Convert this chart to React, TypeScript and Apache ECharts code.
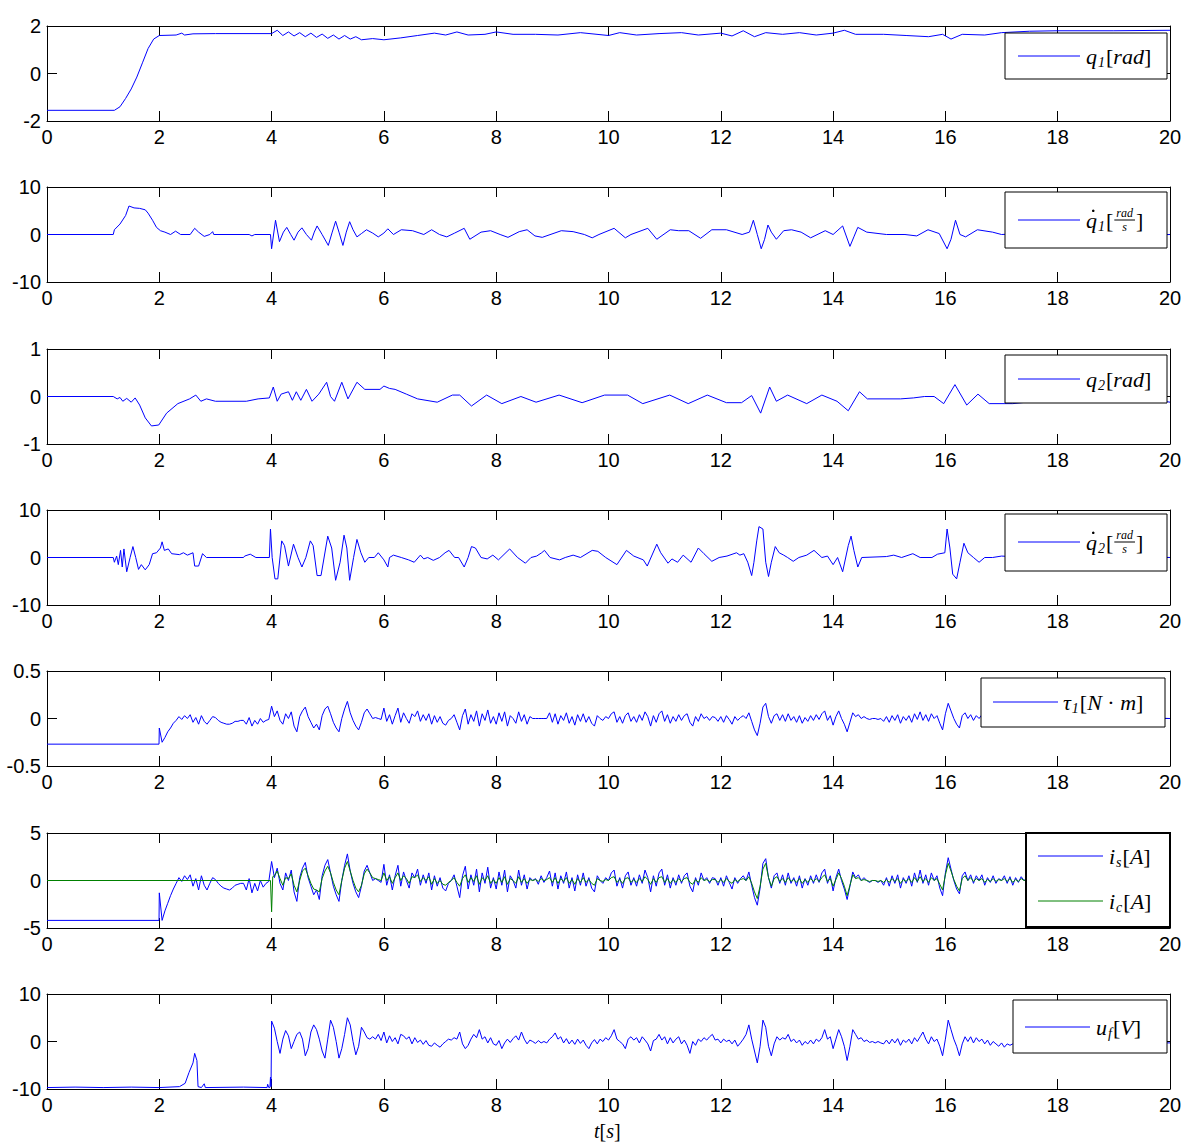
import React, { useEffect, useRef } from "react";
import * as echarts from "echarts";

// ---------- DATA (time [s], value) ----------
const Q1: number[][] = [[0,-1.55],[1.2,-1.55],[1.3,-1.4],[1.4,-1.05],[1.5,-0.65],[1.6,-0.15],[1.7,0.45],[1.8,1.05],[1.9,1.45],[2.0,1.6],[2.3,1.62],[2.4,1.7],[2.45,1.62],[2.6,1.67],[3.0,1.68],[4.0,1.68],[4.1,1.82],[4.2,1.6],[4.3,1.75],[4.4,1.58],[4.5,1.72],[4.6,1.55],[4.7,1.7],[4.8,1.52],[4.9,1.66],[5.0,1.48],[5.1,1.62],[5.2,1.45],[5.3,1.6],[5.4,1.45],[5.5,1.55],[5.6,1.42],[5.8,1.47],[6.0,1.42],[6.3,1.5],[6.6,1.6],[6.9,1.7],[7.1,1.62],[7.3,1.75],[7.5,1.62],[7.8,1.65],[8.0,1.75],[8.3,1.65],[8.7,1.65],[9.1,1.62],[9.5,1.72],[10.0,1.6],[10.2,1.72],[10.5,1.62],[10.9,1.68],[11.3,1.72],[11.6,1.62],[12.0,1.7],[12.2,1.58],[12.4,1.8],[12.6,1.55],[12.8,1.72],[13.1,1.65],[13.4,1.72],[13.7,1.62],[14.0,1.7],[14.2,1.82],[14.4,1.65],[14.9,1.65],[15.3,1.6],[15.7,1.55],[15.95,1.65],[16.1,1.45],[16.3,1.65],[16.7,1.62],[17.0,1.72],[17.5,1.78],[18.0,1.8],[19.0,1.8],[20.0,1.82]];

const QD1: number[][] = [[0,0],[1.18,0],[1.2,1.0],[1.3,2.2],[1.4,4.0],[1.46,6.0],[1.55,5.6],[1.65,5.5],[1.75,5.2],[1.8,4.5],[1.88,3.0],[1.95,1.5],[2.02,0.8],[2.1,0.5],[2.2,0],[2.29,0.7],[2.38,0],[2.55,0],[2.63,1.3],[2.7,0.5],[2.8,-0.4],[2.9,0],[2.95,0.6],[2.97,0],[3.6,0],[3.65,-0.3],[3.7,0],[3.98,0],[4.0,-3.0],[4.07,3.0],[4.14,-1.5],[4.21,0.5],[4.27,1.5],[4.34,0],[4.4,-1.2],[4.47,0.5],[4.54,1.4],[4.62,0],[4.71,-1.2],[4.76,0.5],[4.81,1.8],[4.9,0],[5.01,-2.3],[5.08,0.5],[5.14,2.8],[5.2,0.5],[5.27,-2.3],[5.33,0.5],[5.39,2.7],[5.45,1.0],[5.52,-0.5],[5.6,0.2],[5.69,1.0],[5.8,0.3],[5.9,-0.5],[6.0,0.3],[6.07,1.2],[6.17,0],[6.31,1.0],[6.51,0.8],[6.71,0],[6.85,1.0],[6.99,0],[7.12,-0.5],[7.26,0.3],[7.43,1.3],[7.53,-1.0],[7.73,0.5],[7.9,0.8],[8.07,0],[8.21,-0.6],[8.41,0.6],[8.55,1.0],[8.69,-0.3],[8.82,-0.6],[9.16,0.8],[9.37,0.6],[9.57,0],[9.71,-0.7],[9.83,0],[10.1,1.3],[10.3,-0.7],[10.4,0],[10.7,1.3],[10.86,-1.0],[11.1,1.0],[11.25,0.8],[11.43,0.8],[11.64,-0.8],[11.84,1.0],[12.1,1.0],[12.38,0],[12.51,0.5],[12.58,3.0],[12.65,0],[12.72,-3.0],[12.78,-1.0],[12.84,2.0],[12.9,0.5],[12.99,-1.0],[13.12,0.8],[13.26,1.0],[13.43,0.5],[13.6,-0.7],[13.86,0.8],[14.0,0],[14.17,1.8],[14.3,-2.5],[14.37,-0.5],[14.44,1.5],[14.6,0.5],[14.95,0],[15.28,0],[15.49,-0.3],[15.69,1.0],[15.89,0.2],[16.03,-3.0],[16.1,-1.0],[16.18,3.0],[16.26,0],[16.36,-0.5],[16.57,1.0],[16.84,0.5],[17.0,0],[17.5,0.3],[18.0,-0.3],[18.5,0.4],[19.0,0],[19.5,-0.2],[20.0,0]];

const Q2: number[][] = [[0,0],[1.18,0],[1.25,-0.05],[1.3,-0.02],[1.35,-0.1],[1.42,-0.04],[1.5,-0.12],[1.57,-0.03],[1.65,-0.18],[1.75,-0.45],[1.86,-0.62],[1.99,-0.6],[2.13,-0.35],[2.33,-0.15],[2.54,-0.05],[2.65,0.03],[2.74,-0.1],[2.84,-0.05],[3.0,-0.1],[3.55,-0.1],[3.76,-0.05],[3.96,-0.03],[4.03,0.2],[4.1,-0.1],[4.17,0.05],[4.3,0.1],[4.37,-0.08],[4.44,0.1],[4.52,-0.08],[4.62,0.15],[4.72,-0.1],[4.84,0.05],[4.98,0.3],[5.05,0.0],[5.12,-0.1],[5.25,0.3],[5.36,-0.05],[5.52,0.3],[5.66,0.15],[5.93,0.15],[6.0,0.22],[6.1,0.17],[6.2,0.15],[6.4,0.05],[6.6,-0.05],[6.95,-0.12],[7.22,0.03],[7.35,0.03],[7.56,-0.2],[7.83,0.03],[8.1,-0.15],[8.44,0.0],[8.71,-0.12],[9.12,0.03],[9.53,-0.13],[9.93,0.03],[10.34,0.03],[10.61,-0.15],[11.09,0.03],[11.42,-0.15],[11.76,0.03],[12.1,-0.13],[12.37,-0.13],[12.55,0.02],[12.71,-0.35],[12.87,0.2],[12.99,-0.1],[13.19,0.03],[13.53,-0.15],[13.8,0.03],[14.07,-0.1],[14.27,-0.3],[14.47,0.1],[14.61,-0.05],[15.2,-0.05],[15.43,-0.03],[15.63,0.0],[15.8,0.0],[15.97,-0.15],[16.17,0.25],[16.38,-0.18],[16.58,0.05],[16.78,-0.15],[17.2,-0.15],[17.6,-0.1],[18.2,0],[18.8,-0.1],[19.4,0],[20,-0.12]];

const QD2: number[][] = [[0,0],[1.18,0],[1.2,-1],[1.24,0.3],[1.27,-1.5],[1.31,1.5],[1.34,-2],[1.37,1.8],[1.42,-3],[1.48,0],[1.53,2.3],[1.58,0],[1.63,-2.5],[1.68,-1.5],[1.75,-2.6],[1.82,-1.5],[1.88,0.8],[1.95,1.0],[2.02,2.0],[2.05,3.3],[2.09,1.5],[2.16,1.8],[2.22,0.8],[2.36,0.6],[2.43,1.0],[2.5,0.5],[2.6,1.0],[2.63,-1.8],[2.7,-1.8],[2.77,0.8],[2.84,0],[3.5,0],[3.52,0.3],[3.62,0.7],[3.72,0],[3.96,0],[3.98,6.0],[4.01,0],[4.06,-4.5],[4.11,-4.5],[4.18,3.5],[4.23,2.5],[4.3,-1.8],[4.39,2.8],[4.47,0],[4.54,-2.0],[4.61,0],[4.69,3.5],[4.74,2.5],[4.81,-3.8],[4.88,-3.8],[5.0,4.5],[5.07,2],[5.14,-4.8],[5.22,-1],[5.29,4.7],[5.34,2],[5.39,-4.8],[5.46,0],[5.52,3.8],[5.59,1],[5.66,-1.0],[5.73,0],[5.83,0],[5.9,1.0],[6.0,-0.5],[6.07,-2.0],[6.1,0],[6.17,0.5],[6.31,0],[6.44,-0.5],[6.54,-1.0],[6.65,0.5],[6.71,-0.3],[6.78,0],[6.88,-0.6],[6.99,0],[7.09,1.0],[7.16,1.5],[7.26,0],[7.33,0],[7.43,-2.0],[7.5,0],[7.56,2.3],[7.63,2.0],[7.73,0],[7.84,-0.3],[7.94,0.5],[8.04,-0.5],[8.24,1.8],[8.38,0],[8.52,-1.2],[8.62,0],[8.72,0.3],[8.81,1.0],[8.86,1.5],[8.96,0],[9.13,-0.5],[9.23,0],[9.37,0.5],[9.5,0],[9.71,1.5],[9.81,1.3],[9.95,0],[10.15,-1.5],[10.32,1.5],[10.45,0.3],[10.62,-0.5],[10.69,-1.8],[10.86,2.8],[10.93,1.0],[11.06,-1.2],[11.13,-0.3],[11.23,-1.0],[11.33,0.5],[11.47,-1.0],[11.6,2.0],[11.7,0.8],[11.84,-0.8],[11.97,0],[12.11,0.3],[12.28,1.0],[12.34,0.5],[12.41,0.8],[12.48,-1.0],[12.55,-3.8],[12.59,-1.0],[12.64,3.5],[12.68,6.5],[12.75,6.0],[12.8,-1],[12.85,-4.0],[12.9,-1],[12.97,2.3],[13.04,1.0],[13.12,0.5],[13.19,0],[13.29,-0.8],[13.39,0],[13.53,0.5],[13.66,1.5],[13.8,0],[13.9,0.3],[14.0,-1.5],[14.08,0],[14.17,-3.0],[14.27,2.5],[14.32,4.5],[14.37,1.5],[14.44,-2.0],[14.51,0],[14.95,0.2],[15.08,0.5],[15.22,0],[15.42,0.8],[15.55,0],[15.76,0],[15.86,0.7],[15.99,1.0],[16.03,6.0],[16.08,2.0],[16.13,-3.5],[16.2,-4.5],[16.26,-1.0],[16.33,3.0],[16.4,1.0],[16.5,0],[16.6,-1.0],[16.7,0],[16.84,0],[17.0,0.3],[17.5,0],[18,0.3],[18.5,-0.2],[19,0],[19.5,0.2],[20,0]];

// Noisy signals: samples every SAMPLE_DT seconds starting at the given time
const SAMPLE_DT = 0.05;

const TAU1_HEAD: number[][] = [[0,-0.27],[1.995,-0.27]];
const TAU1_START = 2.0;
const TAU1_VALUES: number[] = [
  -0.10,-0.25,-0.20,-0.14,-0.10,-0.05,-0.02,0.02,-0.01,0.03,0.00,0.04,-0.04,0.01,-0.06,0.03,-0.03,-0.06,-0.02,0.02,
  0.01,-0.02,-0.04,-0.05,-0.06,-0.06,-0.05,-0.03,-0.03,-0.02,-0.02,-0.06,0.01,-0.08,-0.02,-0.06,0.00,-0.04,-0.02,-0.01,
  0.13,0.02,0.08,-0.02,-0.06,0.05,0.00,0.07,-0.08,-0.14,0.02,0.08,0.12,0.02,-0.04,-0.10,-0.06,-0.12,0.03,0.10,
  0.13,0.05,-0.04,-0.10,-0.14,0.00,0.10,0.18,0.06,-0.02,-0.08,-0.12,-0.04,0.06,0.10,0.05,0.00,0.01,0.00,-0.01,
  0.11,-0.03,0.04,-0.06,0.03,0.11,-0.04,0.06,0.00,-0.05,0.05,0.02,0.08,-0.03,0.04,-0.02,0.05,-0.06,0.03,-0.04,
  0.02,-0.05,-0.07,-0.02,0.00,0.04,-0.04,-0.12,0.03,0.10,-0.06,0.04,-0.03,0.08,-0.08,0.05,-0.02,0.09,-0.05,0.02,
  -0.06,0.06,-0.03,0.07,-0.08,0.03,0.00,-0.05,0.07,-0.03,0.04,-0.06,0.02,0.00,0.00,0.00,0.00,0.00,0.00,0.06,
  -0.04,0.05,-0.06,0.03,-0.02,0.06,-0.05,0.02,-0.07,0.04,-0.03,0.05,-0.04,0.02,-0.05,-0.08,0.03,0.00,-0.02,0.02,
  0.00,0.05,0.07,-0.04,0.02,-0.05,0.03,0.06,-0.03,0.02,-0.04,0.04,-0.02,0.07,0.02,-0.08,0.03,-0.04,0.05,0.08,
  -0.03,0.04,-0.05,0.02,-0.03,0.04,-0.02,0.03,0.05,-0.04,-0.08,0.02,-0.03,0.05,0.00,0.02,-0.02,0.02,0.01,-0.03,
  0.02,-0.04,0.03,-0.01,-0.06,0.02,-0.02,0.01,0.03,0.00,0.06,-0.03,-0.12,-0.18,-0.05,0.12,0.16,0.02,-0.05,0.03,
  0.05,-0.02,0.04,-0.03,0.05,-0.02,0.02,-0.04,0.03,-0.05,0.01,-0.03,0.03,-0.02,0.04,-0.01,0.05,0.08,-0.02,0.03,
  -0.07,0.02,0.08,0.00,-0.06,-0.14,-0.04,0.06,0.02,0.04,0.00,0.02,0.00,-0.01,0.00,0.00,-0.01,0.00,-0.03,0.02,
  -0.04,0.03,-0.02,0.04,-0.05,0.02,-0.02,0.03,-0.04,0.05,-0.01,0.07,-0.02,0.04,-0.03,0.05,0.00,0.03,-0.05,-0.12,
  0.05,0.16,0.08,0.00,-0.06,-0.10,0.03,0.06,0.00,0.04,-0.02,0.03,0.00,0.04,-0.03,0.02,-0.01,0.03,-0.02,0.01,
];
const TAU1_TAIL: number[][] = [[17.0,0.0],[17.1,0.03],[17.2,-0.02],[17.3,0.03],[17.4,-0.03],[17.6,0.02],[18,0],[19,0.02],[20,0]];

const IS_HEAD: number[][] = [[0,-4.2],[1.995,-4.2]];
const IS_START = 2.0;
const IS_VALUES: number[] = [
  -1.3,-4.2,-3.2,-2.4,-1.6,-0.9,-0.3,0.3,-0.1,0.5,0.1,0.6,-0.6,0.2,-1.0,0.5,-0.5,-1.0,-0.3,0.3,
  0.1,-0.3,-0.6,-0.8,-0.9,-1.0,-0.8,-0.5,-0.4,-0.3,-0.3,-1.0,0.2,-1.3,-0.3,-1.1,0.0,-0.7,-0.3,-0.1,
  2.0,0.3,1.3,-0.3,-1.0,0.8,0.0,1.1,-1.2,-2.2,0.3,1.3,1.9,0.3,-0.6,-1.5,-1.0,-2.0,0.5,1.6,
  2.2,0.8,-0.6,-1.5,-2.2,0.0,1.6,2.8,1.0,-0.3,-1.2,-1.8,-0.6,1.0,1.6,0.8,0.0,0.2,0.0,-0.2,
  1.7,-0.5,0.6,-1.0,0.5,1.6,-0.6,0.9,0.0,-0.8,0.8,0.3,1.2,-0.5,0.6,-0.3,0.8,-1.0,0.5,-0.6,
  0.3,-0.8,-1.1,-0.3,0.0,0.6,-0.6,-1.8,0.5,1.5,-0.9,0.6,-0.5,1.2,-1.2,0.8,-0.3,1.4,-0.8,0.3,
  -0.9,0.9,-0.5,1.1,-1.2,0.5,0.0,-0.8,1.1,-0.5,0.6,-0.9,0.3,0.0,0.2,-0.4,0.5,-0.2,0.3,1.0,
  -0.6,0.8,-0.9,0.5,-0.3,0.9,-0.8,0.3,-1.1,0.6,-0.5,0.8,-0.6,0.3,-0.8,-1.2,0.5,0.0,-0.3,0.3,
  0.0,0.8,1.1,-0.6,0.3,-0.8,0.5,0.9,-0.5,0.3,-0.6,0.6,-0.3,1.1,0.3,-1.2,0.5,-0.6,0.8,1.2,
  -0.5,0.6,-0.8,0.3,-0.5,0.6,-0.3,0.5,0.8,-0.6,-1.2,0.3,-0.5,0.8,0.0,0.3,-0.3,0.3,0.2,-0.5,
  0.3,-0.6,0.5,-0.2,-0.9,0.3,-0.3,0.2,0.5,0.0,0.9,-0.5,-1.8,-2.6,-0.8,1.8,2.3,0.3,-0.8,0.5,
  0.8,-0.3,0.6,-0.5,0.8,-0.3,0.3,-0.6,0.5,-0.8,0.2,-0.5,0.5,-0.3,0.6,-0.2,0.8,1.2,-0.3,0.5,
  -1.1,0.3,1.2,0.0,-0.9,-2.0,-0.6,0.9,0.3,0.6,0.0,0.3,0.0,-0.2,0.0,0.0,-0.2,0.0,-0.5,0.3,
  -0.6,0.5,-0.3,0.6,-0.8,0.3,-0.3,0.5,-0.6,0.8,-0.2,1.1,-0.3,0.6,-0.5,0.8,0.0,0.5,-0.8,-1.6,
  0.8,2.4,1.2,0.0,-0.9,-1.4,0.5,0.9,0.0,0.6,-0.3,0.5,0.0,0.6,-0.5,0.3,-0.2,0.5,-0.3,0.2,
  0.0,0.5,-0.3,0.4,-0.5,0.3,-0.2,0.4,0.0,0.2,
];
const IS_TAIL: number[][] = [[17.6,0],[20,0]];

const IC_HEAD: number[][] = [[0,0],[3.98,0],[4.0,-3.3],[4.02,0.4]];
const IC_START = 4.05;
const IC_VALUES: number[] = [
  0.5,1.0,0.2,-0.5,0.3,0.2,0.7,-0.5,-1.2,0.0,1.0,1.3,0.5,-0.3,-0.9,-1.0,-1.2,0.2,1.0,
  1.5,0.8,-0.2,-1.0,-1.5,0.0,1.3,2.0,1.0,0.0,-0.8,-1.2,-0.5,0.7,1.2,0.8,0.3,0.2,0.1,0.0,
  0.8,0.0,0.4,-0.3,0.3,0.8,0.0,0.5,0.2,-0.3,0.4,0.3,0.6,-0.1,0.3,0.0,0.4,-0.4,0.2,-0.3,
  0.0,-0.4,-0.5,-0.2,0.0,0.3,-0.2,-0.6,0.2,0.6,-0.2,0.3,-0.1,0.5,-0.4,0.3,0.0,0.5,-0.3,0.1,
  -0.3,0.3,-0.2,0.4,-0.4,0.2,0.0,-0.3,0.4,-0.2,0.2,-0.3,0.1,0.0,0.1,-0.1,0.2,0.0,0.1,0.3,
  -0.2,0.3,-0.3,0.2,-0.1,0.3,-0.3,0.1,-0.4,0.2,-0.2,0.3,-0.2,0.1,-0.3,-0.5,0.2,0.0,-0.1,0.1,
  0.0,0.3,0.4,-0.2,0.1,-0.3,0.2,0.3,-0.2,0.1,-0.2,0.2,-0.1,0.4,0.1,-0.4,0.2,-0.2,0.3,0.4,
  -0.2,0.2,-0.3,0.1,-0.2,0.2,-0.1,0.2,0.3,-0.2,-0.4,0.1,-0.2,0.3,0.0,0.1,-0.1,0.1,0.1,-0.2,
  0.1,-0.2,0.2,-0.1,-0.3,0.1,-0.1,0.1,0.2,0.0,0.4,-0.3,-1.2,-1.9,-0.6,1.2,1.8,0.3,-0.6,0.2,
  0.4,-0.1,0.2,-0.2,0.3,-0.1,0.1,-0.2,0.2,-0.3,0.1,-0.2,0.2,-0.1,0.2,-0.1,0.3,0.6,-0.1,0.2,
  -0.6,0.1,0.8,0.2,-0.6,-1.6,-0.5,0.6,0.2,0.3,0.0,0.1,0.0,-0.1,0.0,0.0,-0.1,0.0,-0.2,0.1,
  -0.2,0.2,-0.1,0.2,-0.3,0.1,-0.1,0.2,-0.2,0.3,-0.1,0.4,-0.1,0.2,-0.2,0.3,0.0,0.2,-0.4,-1.0,
  0.6,1.8,1.0,0.1,-0.6,-1.1,0.2,0.5,0.0,0.3,-0.1,0.2,0.0,0.2,-0.2,0.1,-0.1,0.2,-0.1,0.1,
  0.0,0.2,-0.1,0.2,-0.2,0.1,-0.1,0.2,0.0,0.1,
];
const IC_TAIL: number[][] = [[17.6,0],[20,0]];

const UF_HEAD: number[][] = [[0,-9.7],[0.5,-9.6],[1.0,-9.7],[1.5,-9.6],[2.0,-9.7],[2.36,-9.5],[2.46,-8.8],[2.53,-6.5],[2.6,-4.5],[2.63,-2.5],[2.67,-4.0],[2.69,-9.5],[2.75,-9.7],[2.8,-8.9],[2.82,-9.7],[3.5,-9.6],[3.92,-9.7],[3.93,-9.0],[3.95,-9.7],[3.97,-9.7],[3.98,-7.5],[3.99,-9.5]];
const UF_START = 4.0;
const UF_VALUES: number[] = [
  4.3,2.8,0.0,-2.5,0.5,2.3,1.2,-1.5,0.0,1.5,2.0,0.5,-3.0,-1.5,2.0,3.5,2.5,0.5,-2.0,-3.5,
  0.5,4.5,3.0,0.0,-3.5,-1.5,1.5,5.0,3.5,0.0,-2.8,-1.0,3.0,2.0,0.8,0.5,1.0,0.5,1.5,0.2,
  2.0,-0.3,1.2,0.0,0.8,-0.5,1.5,1.2,0.5,1.0,-0.5,0.8,-0.2,0.3,-0.6,0.2,-0.8,-1.0,-0.3,-0.8,
  -1.2,-0.5,0.0,0.5,0.3,0.8,0.5,2.0,-0.5,-1.5,-0.8,0.5,1.5,0.8,2.5,0.5,1.0,-0.3,0.8,-0.5,
  -0.8,0.2,-1.5,-0.3,0.5,-0.2,0.6,1.2,0.3,2.0,0.5,-0.5,0.3,0.0,-0.4,0.2,-0.3,0.0,-0.3,0.5,
  1.0,1.8,0.5,1.0,-0.3,0.6,-0.5,0.3,-0.6,0.5,-0.4,0.3,-0.8,-1.5,-0.3,0.4,-0.5,0.5,0.0,0.8,
  0.3,1.2,2.5,0.5,0.0,-0.5,-1.5,0.5,1.0,0.3,0.8,-0.3,1.0,0.3,-0.5,-2.0,0.2,0.5,1.5,0.3,
  1.0,-0.5,0.8,-0.3,0.5,1.0,-0.5,0.3,-0.8,-2.5,0.0,-0.8,0.5,0.0,0.8,0.3,1.0,1.5,0.3,0.5,
  -0.3,0.5,0.0,0.3,-0.5,0.3,-1.0,-0.3,0.5,1.5,3.5,0.5,-2.0,-4.5,-1.0,4.5,3.0,-1.0,-3.0,-0.5,
  1.0,0.3,0.8,0.5,1.5,0.0,0.5,-0.3,0.3,-0.8,0.0,-0.5,0.3,-0.5,0.5,0.0,0.8,2.5,0.5,1.0,
  -1.5,0.5,2.5,1.0,-1.0,-4.0,-1.0,2.5,1.5,0.5,0.8,0.0,0.3,-0.2,0.0,-0.3,0.0,-0.3,-0.5,0.3,
  -0.5,0.5,-0.3,0.6,-0.8,0.3,-0.2,0.5,-0.5,0.8,0.0,1.0,2.0,0.5,-0.5,1.0,0.0,0.5,-1.0,-3.0,
  0.5,4.5,2.5,0.5,-1.0,-3.0,-0.5,1.0,0.0,1.0,-0.3,0.8,0.0,0.5,-0.5,0.3,-0.8,0.0,-0.5,-1.0,
  -0.3,-1.2,-0.5,-0.8,-0.5,
];
const UF_TAIL: number[][] = [[17.4,-0.5],[18,-0.3],[19,0],[20,-0.3]];

// Axis ranges per panel [min, max, interval]
const Y_RANGES: number[][] = [[-2,2,2],[-10,10,10],[-1,1,1],[-10,10,10],[-0.5,0.5,0.5],[-5,5,5],[-10,10,10]];
const X_MIN = 0, X_MAX = 20, X_INTERVAL = 2;

// ---------- helpers ----------
function sampled(head: number[][], start: number, values: number[], tail: number[][]) {
  const mid = values.map((v, i) => [Math.round((start + i * SAMPLE_DT) * 1000) / 1000, v]);
  return [...head, ...mid, ...tail];
}

const BLUE = "#0000ff";
const GREEN = "#008000";
const TICK_FONT = "'Liberation Sans', Arial, sans-serif";
const MATH_FONT = "'Liberation Serif', 'Times New Roman', serif";

let ctx2d: CanvasRenderingContext2D | null = null;
function measure(text: string, size: number, italic: boolean) {
  if (!ctx2d) ctx2d = document.createElement("canvas").getContext("2d");
  if (!ctx2d) return text.length * size * 0.5;
  ctx2d.font = `${italic ? "italic " : ""}${size}px ${MATH_FONT}`;
  return ctx2d.measureText(text).width;
}

type Piece = { k: "i" | "n" | "sub" | "frac" | "dot"; t?: string; num?: string; den?: string };

function mathText(x0: number, y: number, pieces: Piece[], size = 22): any[] {
  const out: any[] = [];
  let x = x0;
  let lastStart = x0;
  const txt = (s: string, xx: number, yy: number, fs: number, italic: boolean) => ({
    type: "text", x: xx, y: yy, z: 102, silent: true,
    style: { text: s, fontSize: fs, fontFamily: MATH_FONT, fontStyle: italic ? "italic" : "normal",
      fill: "#000", align: "left", verticalAlign: "middle" },
  });
  for (const p of pieces) {
    if (p.k === "i" || p.k === "n") {
      const it = p.k === "i";
      out.push(txt(p.t!, x, y, size, it));
      lastStart = x;
      x += measure(p.t!, size, it);
    } else if (p.k === "sub") {
      const fs = Math.round(size * 0.64);
      out.push(txt(p.t!, x + 1, y + size * 0.3, fs, true));
      x += measure(p.t!, fs, true) + 2;
    } else if (p.k === "dot") {
      out.push({ type: "circle", z: 102, silent: true, shape: { cx: lastStart + size * 0.33, cy: y - size * 0.42, r: 1.3 }, style: { fill: "#000" } });
    } else if (p.k === "frac") {
      const fs = Math.round(size * 0.55);
      const w = Math.max(measure(p.num!, fs, true), measure(p.den!, fs, true)) + 4;
      out.push({ type: "line", z: 102, silent: true, shape: { x1: x + 1, y1: y, x2: x + w + 1, y2: y }, style: { stroke: "#000", lineWidth: 1 } });
      const nw = measure(p.num!, fs, true), dw = measure(p.den!, fs, true);
      out.push(txt(p.num!, x + 1 + (w - nw) / 2, y - fs * 0.55, fs, true));
      out.push(txt(p.den!, x + 1 + (w - dw) / 2, y + fs * 0.6, fs, true));
      x += w + 2;
    }
  }
  return out;
}

function legendBox(rect: number[], border: number, entries: { y: number; x1: number; x2: number; color: string; tx: number; pieces: Piece[] }[]) {
  const els: any[] = [{
    type: "rect", z: 100, silent: true,
    shape: { x: rect[0], y: rect[1], width: rect[2], height: rect[3] },
    style: { fill: "#fff", stroke: "#000", lineWidth: border },
  }];
  for (const e of entries) {
    els.push({ type: "line", z: 101, silent: true, shape: { x1: e.x1, y1: e.y, x2: e.x2, y2: e.y }, style: { stroke: e.color, lineWidth: 1 } });
    els.push(...mathText(e.tx, e.y, e.pieces));
  }
  return els;
}

export default function App() {
  const ref = useRef<HTMLDivElement>(null);
  useEffect(() => {
    document.body.style.margin = "0";
    if (!ref.current) return;
    const chart = echarts.init(ref.current, undefined, { renderer: "svg" });

    const panels = [
      [{ data: Q1, color: BLUE }],
      [{ data: QD1, color: BLUE }],
      [{ data: Q2, color: BLUE }],
      [{ data: QD2, color: BLUE }],
      [{ data: sampled(TAU1_HEAD, TAU1_START, TAU1_VALUES, TAU1_TAIL), color: BLUE }],
      [{ data: sampled(IS_HEAD, IS_START, IS_VALUES, IS_TAIL), color: BLUE },
       { data: sampled(IC_HEAD, IC_START, IC_VALUES, IC_TAIL), color: GREEN }],
      [{ data: sampled(UF_HEAD, UF_START, UF_VALUES, UF_TAIL), color: BLUE }],
    ];
    const tops = [26, 187, 349, 510, 671, 833, 994];
    const grid: any[] = [], xAxis: any[] = [], yAxis: any[] = [], series: any[] = [];
    const axisLine = { show: true, onZero: false, lineStyle: { color: "#000", width: 1 } };
    const tick = { show: true, inside: true, length: 10, lineStyle: { color: "#000", width: 1 } };
    panels.forEach((ps, i) => {
      grid.push({ left: 47, width: 1123, top: tops[i], height: 95, containLabel: false });
      const [mn, mx, iv] = Y_RANGES[i];
      const xBase = { gridIndex: i, type: "value", min: X_MIN, max: X_MAX, interval: X_INTERVAL, axisLine, axisTick: tick, splitLine: { show: false } };
      xAxis.push({ ...xBase, position: "bottom", axisLabel: { color: "#000", fontSize: 20, fontFamily: TICK_FONT, margin: 6 } });
      xAxis.push({ ...xBase, position: "top", axisLabel: { show: false } });
      const yBase = { gridIndex: i, type: "value", min: mn, max: mx, interval: iv, axisLine, axisTick: tick, splitLine: { show: false } };
      yAxis.push({ ...yBase, position: "left", axisLabel: { color: "#000", fontSize: 20, fontFamily: TICK_FONT, margin: 6 } });
      yAxis.push({ ...yBase, position: "right", axisLabel: { show: false } });
      ps.forEach((p) => series.push({
        type: "line", xAxisIndex: 2 * i, yAxisIndex: 2 * i, data: p.data, showSymbol: false, symbol: "none",
        lineStyle: { color: p.color, width: 1 }, itemStyle: { color: p.color }, clip: true, z: 3,
      }));
    });

    const qRad = (n: string): Piece[] => [{ k: "i", t: "q" }, { k: "sub", t: n }, { k: "n", t: "[" }, { k: "i", t: "rad" }, { k: "n", t: "]" }];
    const qdRad = (n: string): Piece[] => [{ k: "i", t: "q" }, { k: "dot" }, { k: "sub", t: n }, { k: "n", t: "[" }, { k: "frac", num: "rad", den: "s" }, { k: "n", t: "]" }];

    const graphic: any[] = [
      ...legendBox([1005, 33, 162, 46], 1, [{ y: 56, x1: 1018, x2: 1080, color: BLUE, tx: 1086, pieces: qRad("1") }]),
      ...legendBox([1005, 192, 162, 56], 1, [{ y: 220, x1: 1018, x2: 1080, color: BLUE, tx: 1086, pieces: qdRad("1") }]),
      ...legendBox([1005, 355, 162, 48], 1, [{ y: 379, x1: 1018, x2: 1080, color: BLUE, tx: 1086, pieces: qRad("2") }]),
      ...legendBox([1005, 514, 162, 57], 1, [{ y: 542, x1: 1018, x2: 1080, color: BLUE, tx: 1086, pieces: qdRad("2") }]),
      ...legendBox([981, 678, 184, 49], 1, [{ y: 702, x1: 993, x2: 1058, color: BLUE, tx: 1063,
        pieces: [{ k: "i", t: "τ" }, { k: "sub", t: "1" }, { k: "n", t: "[" }, { k: "i", t: "N" }, { k: "n", t: " · " }, { k: "i", t: "m" }, { k: "n", t: "]" }] }]),
      ...legendBox([1026, 833, 144, 94], 2, [
        { y: 856, x1: 1038, x2: 1103, color: BLUE, tx: 1109, pieces: [{ k: "i", t: "i" }, { k: "sub", t: "s" }, { k: "n", t: "[" }, { k: "i", t: "A" }, { k: "n", t: "]" }] },
        { y: 901, x1: 1038, x2: 1103, color: GREEN, tx: 1109, pieces: [{ k: "i", t: "i" }, { k: "sub", t: "c" }, { k: "n", t: "[" }, { k: "i", t: "A" }, { k: "n", t: "]" }] },
      ]),
      ...legendBox([1013, 1000, 154, 53], 1, [{ y: 1027, x1: 1025, x2: 1090, color: BLUE, tx: 1096,
        pieces: [{ k: "i", t: "u" }, { k: "sub", t: "f" }, { k: "n", t: "[" }, { k: "i", t: "V" }, { k: "n", t: "]" }] }]),
      ...mathText(594, 1131, [{ k: "i", t: "t" }, { k: "n", t: "[" }, { k: "i", t: "s" }, { k: "n", t: "]" }], 20),
    ];

    chart.setOption({
      animation: false,
      backgroundColor: "#fff",
      grid, xAxis, yAxis, series, graphic,
    });
    return () => chart.dispose();
  }, []);
  return <div ref={ref} style={{ width: 1185, height: 1146 }} />;
}
